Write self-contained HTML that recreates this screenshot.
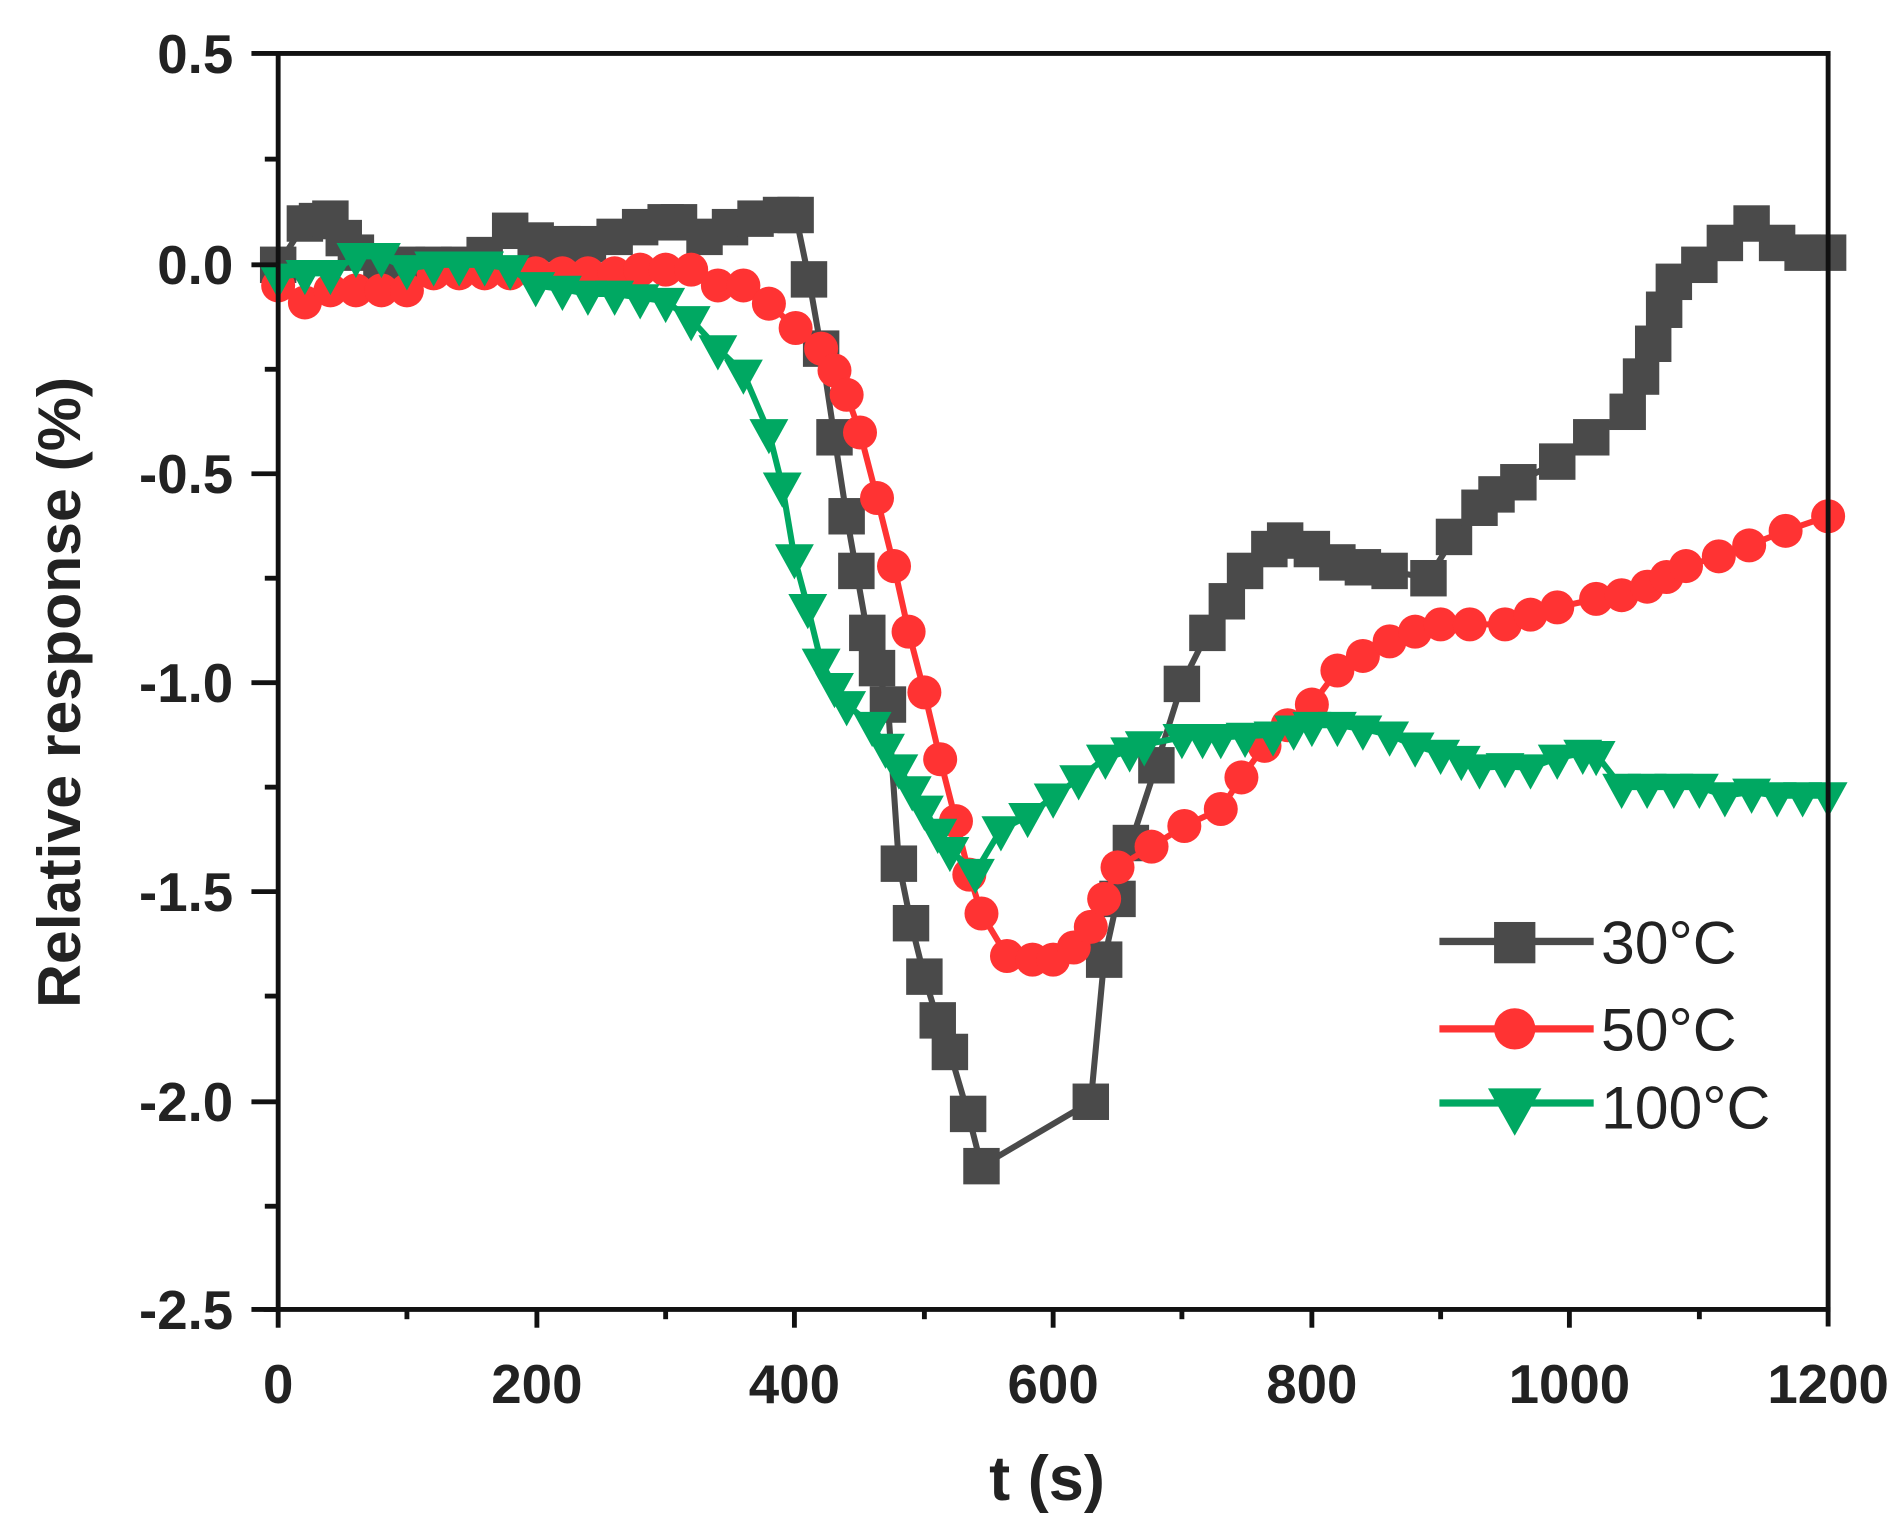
<!DOCTYPE html>
<html><head><meta charset="utf-8"><style>html,body{margin:0;padding:0;background:#fff}svg{display:block}</style></head>
<body>
<svg width="1901" height="1533" viewBox="0 0 1565 1262" preserveAspectRatio="none" xmlns="http://www.w3.org/2000/svg" font-family="Liberation Sans, Arial, sans-serif">
<defs>
<marker id="sq" markerUnits="userSpaceOnUse" markerWidth="34" markerHeight="34" refX="17" refY="17"><rect x="2" y="2" width="30" height="30" fill="#4a4a4a"/></marker>
<marker id="ci" markerUnits="userSpaceOnUse" markerWidth="34" markerHeight="34" refX="17" refY="17"><circle cx="17" cy="17" r="14" fill="#ff3333"/></marker>
<marker id="tr" markerUnits="userSpaceOnUse" markerWidth="36" markerHeight="36" refX="18" refY="13"><polygon points="2,2 34,2 18,31" fill="#00a862"/></marker>
</defs>
<polyline fill="none" stroke="#4a4a4a" stroke-width="5" marker-start="url(#sq)" marker-mid="url(#sq)" marker-end="url(#sq)" points="
229,218 251,184 261,182 272,180 283,196 293,208 314,218 335,218 357,218 378,218 399,210 420,190 441,198 463,201 484,201 506,195 527,187 548,183 559,183 580,195 601,187 622,180 643,177 655,177
666,230 676,287 687,360 697,425 705,470 714,521 722,550 731,580 740,711 750,760 761,804 772,840 782,866 797,917 808,960 898,907 909,790 920,740 931,694 952,630 973,563 994,521 1010,495 1025,470 1045,452 1058,445 1080,452 1101,463 1122,467 1144,470 1176,476 1197,442 1218,418 1232,407 1250,397 1282,380 1310,360 1340,339 1351,310 1361,283 1370,255 1378,232 1399,218 1420,200 1442,184 1463,200 1484,208 1505,208" />
<polyline fill="none" stroke="#ff3333" stroke-width="5" marker-start="url(#ci)" marker-mid="url(#ci)" marker-end="url(#ci)" points="
229,235 251,249 272,239 293,239 314,239 335,239 357,225 378,225 399,225 420,225 441,225 463,225 484,225 506,225 527,222 548,222 569,222 591,235 612,235 633,250 655,270 676,287 687,305 697,325 708,356 722,410 736,466 748,520 761,570 774,625 787,676 798,720 808,752 829,787 850,790 867,790 884,780 898,763 909,740 920,714 948,697 975,680 1005,666 1022,640 1041,614 1060,597 1080,580 1101,552 1122,540 1144,528 1165,520 1186,514 1210,514 1239,514 1260,506 1282,500 1314,493 1335,490 1356,483 1372,475 1388,466 1415,458 1440,449 1470,437 1505,425" />
<polyline fill="none" stroke="#00a862" stroke-width="5" marker-start="url(#tr)" marker-mid="url(#tr)" marker-end="url(#tr)" points="
229,228 251,225 272,225 293,211 314,211 335,221 357,218 378,218 399,218 420,221 441,235 463,238 484,242 506,242 527,245 548,248 569,263 591,287 612,307 633,356 644,400 654,459 665,500 676,545 687,565 697,580 718,597 729,615 740,632 751,650 761,666 772,685 782,700 803,718 824,683 846,672 867,656 888,641 910,624 930,618 942,613 973,607 990,607 1005,607 1025,606 1048,605 1065,600 1080,597 1101,597 1122,600 1144,605 1165,614 1186,620 1203,625 1218,632 1239,631 1260,632 1282,624 1303,620 1314,621 1335,648 1356,648 1378,648 1399,648 1420,655 1442,652 1463,655 1484,655 1505,655" />
<g stroke="#111" stroke-width="4" fill="none">
<line x1="229" y1="44" x2="229" y2="1080"/>
<line x1="1505" y1="44" x2="1505" y2="1092"/>
<line x1="207" y1="44" x2="1507" y2="44"/>
<line x1="217" y1="1078" x2="1507" y2="1078"/>
</g>
<g stroke="#111" stroke-width="4">
<line x1="207" y1="218" x2="229" y2="218"/><line x1="207" y1="390" x2="229" y2="390"/><line x1="207" y1="562" x2="229" y2="562"/><line x1="207" y1="734" x2="229" y2="734"/><line x1="207" y1="907" x2="229" y2="907"/><line x1="207" y1="1078" x2="229" y2="1078"/>
<line x1="218" y1="131" x2="229" y2="131"/><line x1="218" y1="304" x2="229" y2="304"/><line x1="218" y1="476" x2="229" y2="476"/><line x1="218" y1="648" x2="229" y2="648"/><line x1="218" y1="820" x2="229" y2="820"/><line x1="218" y1="993" x2="229" y2="993"/>
<line x1="229" y1="1078" x2="229" y2="1093"/><line x1="442" y1="1078" x2="442" y2="1093"/><line x1="654" y1="1078" x2="654" y2="1093"/><line x1="867" y1="1078" x2="867" y2="1093"/><line x1="1080" y1="1078" x2="1080" y2="1093"/><line x1="1292" y1="1078" x2="1292" y2="1093"/>
<line x1="335" y1="1078" x2="335" y2="1086"/><line x1="548" y1="1078" x2="548" y2="1086"/><line x1="761" y1="1078" x2="761" y2="1086"/><line x1="973" y1="1078" x2="973" y2="1086"/><line x1="1186" y1="1078" x2="1186" y2="1086"/><line x1="1399" y1="1078" x2="1399" y2="1086"/>
</g>
<g font-size="45" font-weight="bold" fill="#222" text-anchor="end">
<text x="192" y="60">0.5</text><text x="192" y="234">0.0</text><text x="192" y="406">-0.5</text><text x="192" y="578">-1.0</text><text x="192" y="750">-1.5</text><text x="192" y="923">-2.0</text><text x="192" y="1094">-2.5</text>
</g>
<g font-size="45" font-weight="bold" fill="#222" text-anchor="middle">
<text x="229" y="1155">0</text><text x="442" y="1155">200</text><text x="654" y="1155">400</text><text x="867" y="1155">600</text><text x="1080" y="1155">800</text><text x="1292" y="1155">1000</text><text x="1505" y="1155">1200</text>
<text x="862" y="1235" font-size="52">t (s)</text>
<text transform="translate(66,570) rotate(-90)" font-size="50">Relative response (%)</text>
</g>
<line x1="1185" y1="775" x2="1312" y2="775" stroke="#4a4a4a" stroke-width="6"/><rect x="1230" y="759" width="34" height="34" fill="#4a4a4a"/>
<line x1="1185" y1="847" x2="1312" y2="847" stroke="#ff3333" stroke-width="6"/><circle cx="1247" cy="847" r="17" fill="#ff3333"/>
<line x1="1185" y1="908" x2="1312" y2="908" stroke="#00a862" stroke-width="6"/><polygon points="1225,896 1269,896 1247,935" fill="#00a862"/>
<g font-size="50" fill="#222"><text x="1318" y="793">30°C</text><text x="1318" y="865">50°C</text><text x="1318" y="929">100°C</text></g>
</svg>
</body></html>
